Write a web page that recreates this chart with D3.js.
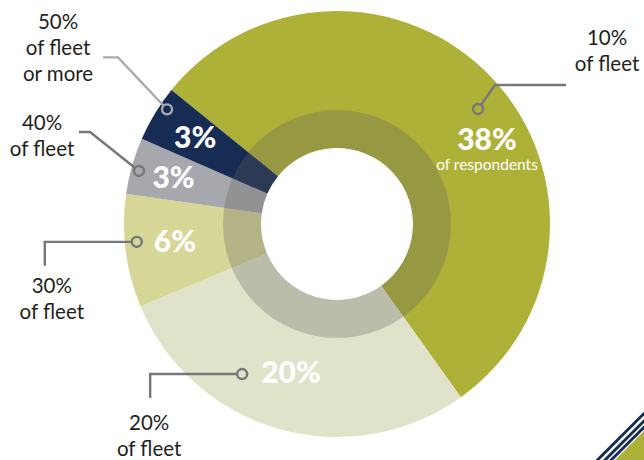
<!DOCTYPE html>
<html>
<head>
<meta charset="utf-8">
<script src="https://cdn.jsdelivr.net/npm/d3@7"></script>
<style>
  html, body { margin: 0; padding: 0; background: #ffffff; }
  svg { display: block; }
  text { font-family: Lato, "Open Sans", sans-serif; }
</style>
</head>
<body>
<div id="chart"></div>
<script>
// Share of respondents by fleet share
const categories = ["10% of fleet", "20% of fleet", "30% of fleet", "40% of fleet", "50% of fleet or more"];
const shares = [38, 20, 6, 3, 3];
const valueLabels = ["38%", "20%", "6%", "3%", "3%"];
const categoryLines = [["10%", "of fleet"], ["20%", "of fleet"], ["30%", "of fleet"], ["40%", "of fleet"], ["50%", "of fleet", "or more"]];
const sliceColors = ["#adb138", "#e0e3c9", "#d6d697", "#a7a8ad", "#172c52"];

const W = 644, H = 460;
const cx = 337, cy = 224;
const rOuter = 213, rInner = 76, rRing = 114;
const deg = Math.PI / 180;

const svg = d3.select("#chart").append("svg")
  .attr("width", W).attr("height", H)
  .attr("viewBox", `0 0 ${W} ${H}`);

// corner stripes
const corner = svg.append("g");
corner.append("path")
  .attr("d", `M615,${H} L${W},${H - 29} L${W},${H} Z`)
  .attr("fill", "#adb138");
[597.5, 605, 611.2].forEach(x0 => {
  corner.append("line")
    .attr("x1", x0 - 4).attr("y1", H + 4)
    .attr("x2", W + 4).attr("y2", H - (W - x0) - 4)
    .attr("stroke", "#172c52").attr("stroke-width", 2.9);
});

const pie = d3.pie().sort(null).value(d => d)
  .startAngle(-51 * deg).endAngle(-51 * deg + 2 * Math.PI);
const arcs = pie(shares);

const arc = d3.arc().innerRadius(rInner).outerRadius(rOuter);
const g = svg.append("g").attr("transform", `translate(${cx},${cy})`);

g.selectAll("path.slice").data(arcs).enter().append("path")
  .attr("class", "slice")
  .attr("d", arc)
  .attr("fill", (d, i) => sliceColors[i]);

// translucent inner band
g.append("path")
  .attr("d", d3.arc().innerRadius(rInner).outerRadius(rRing).startAngle(0).endAngle(2 * Math.PI)())
  .attr("fill", "rgb(96,94,94)")
  .attr("opacity", 0.29);

// polar helper (angle clockwise from 12 o'clock)
const polar = (a, r) => [Math.sin(a) * r, -Math.cos(a) * r];
const mid = d => (d.startAngle + d.endAngle) / 2;

// value labels inside the band
const labelShift = [14 * deg, 1.4 * deg, 1.3 * deg, 0, 0];
const labelRadius = [172, 155, 163, 170, 166];
arcs.forEach((d, i) => {
  const [x, y] = polar(mid(d) + labelShift[i], labelRadius[i]);
  g.append("text")
    .attr("x", x).attr("y", y + 10.5)
    .attr("text-anchor", "middle")
    .attr("fill", "#ffffff")
    .attr("font-weight", 900)
    .attr("font-size", 30)
    .text(valueLabels[i]);
  if (i === 0) {
    g.append("text")
      .attr("x", x).attr("y", y + 30.5)
      .attr("text-anchor", "middle")
      .attr("fill", "#ffffff")
      .attr("font-weight", 400)
      .attr("font-size", 15.5)
      .text("of respondents");
  }
});

// leader lines with hollow dots, and category labels
const dotPolar = [[50.8, 182], [212.3, 177.5], [264.9, 201], [285, 205], [304, 205]];
const leaderSteps = [
  [[17, -24], [88, -24]],
  [[-92, 0], [-92, 24]],
  [[-92, 0], [-92, 24]],
  [[-49, -39], [-60, -39]],
  [[-49, -52], [-64, -52]]
];
const leaderColor = ["#76777a", "#76777a", "#76777a", "#76777a", "#a9abae"];
const textAnchor = [[129, -64], [-93, 56], [-85, 51], [-97, -41], [-109, -80]];

arcs.forEach((d, i) => {
  const [dx, dy] = polar(dotPolar[i][0] * deg, dotPolar[i][1]);
  const pts = [[dx, dy]].concat(leaderSteps[i].map(s => [dx + s[0], dy + s[1]]));
  g.append("path")
    .attr("d", d3.line()(pts))
    .attr("fill", "none")
    .attr("stroke", leaderColor[i])
    .attr("stroke-width", 2.4);
  g.append("circle")
    .attr("cx", dx).attr("cy", dy).attr("r", 5)
    .attr("fill", sliceColors[i])
    .attr("stroke", leaderColor[i])
    .attr("stroke-width", 2.4);

  const t = g.append("text")
    .attr("text-anchor", "middle")
    .attr("fill", "#231f20")
    .attr("font-size", 20.5);
  categoryLines[i].forEach((line, k) => {
    t.append("tspan")
      .attr("x", dx + textAnchor[i][0])
      .attr("y", dy + textAnchor[i][1] + k * 26)
      .text(line);
  });
});
</script>
</body>
</html>
